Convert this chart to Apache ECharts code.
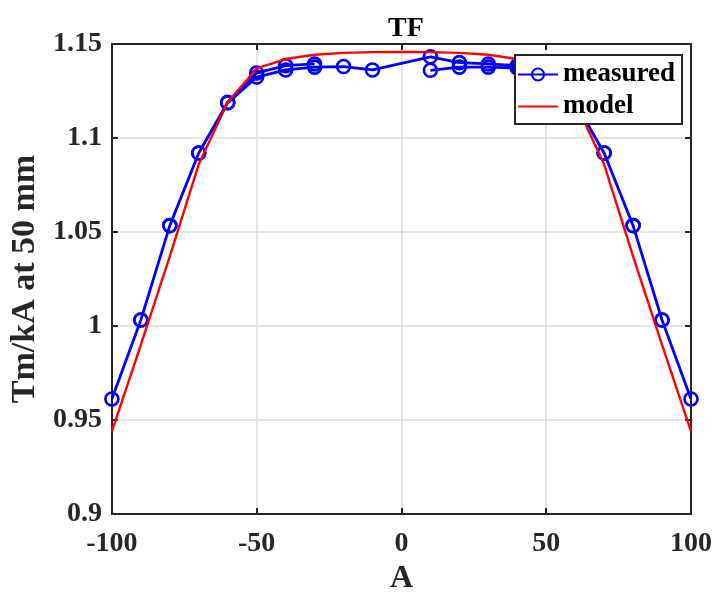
<!DOCTYPE html>
<html>
<head>
<meta charset="utf-8">
<script src="https://cdn.jsdelivr.net/npm/echarts@6/dist/echarts.min.js"></script>
<style>html,body{margin:0;padding:0;background:#fff}#c{width:717px;height:600px}</style>
</head>
<body>
<div id="c"></div>
<script>
// measured path (hysteresis loop order)
var measuredA  = [10, 20, 30, 40, 50, 60, 70, 80, 90, 100, 90, 80, 70, 60, 50, 40, 30, 20, 10, -10, -20, -30, -40, -50, -60, -70, -80, -90, -100, -90, -80, -70, -60, -50, -40, -30];
var measuredTF = [1.1360, 1.1377, 1.1377, 1.1372, 1.1325, 1.1187, 1.0920, 1.0534, 1.0032, 0.9612, 1.0032, 1.0534, 1.0920, 1.1190, 1.1345, 1.1385, 1.1394, 1.1401, 1.1432, 1.1362, 1.1380, 1.1377, 1.1362, 1.1324, 1.1187, 1.0920, 1.0534, 1.0032, 0.9612, 1.0032, 1.0534, 1.0920, 1.1190, 1.1346, 1.1385, 1.1394];
var modelA  = [-100, -90, -80, -70, -60, -50, -40, -30, -20, -10, 0, 10, 20, 30, 40, 50, 60, 70, 80, 90, 100];
var modelTF = [0.944, 0.990, 1.037, 1.086, 1.119, 1.137, 1.142, 1.1443, 1.1453, 1.1457, 1.1458, 1.1457, 1.1453, 1.1443, 1.142, 1.137, 1.119, 1.086, 1.037, 0.990, 0.944];
var titleText = 'TF';
var xName = 'A';
var yName = 'Tm/kA at 50 mm';

var font = 'Liberation Serif';
function pairs(a, b) { return a.map(function (v, i) { return [v, b[i]]; }); }
function fmt(v) { return String(Math.round(v * 100) / 100); }

var chart = echarts.init(document.getElementById('c'), null, {renderer: 'canvas'});
var axisColor = '#262626';
var baseX = {
  type: 'value', min: -100, max: 100, interval: 50,
  axisLine: {show: true, onZero: false, lineStyle: {color: axisColor, width: 2}},
  axisTick: {show: true, inside: true, length: 6, lineStyle: {color: axisColor, width: 2}}
};
var baseY = {
  type: 'value', min: 0.9, max: 1.15, interval: 0.05,
  axisLine: {show: true, onZero: false, lineStyle: {color: axisColor, width: 2}},
  axisTick: {show: true, inside: true, length: 6, lineStyle: {color: axisColor, width: 2}}
};
chart.setOption({
  animation: false,
  backgroundColor: '#fff',
  title: {
    text: titleText, left: 401, top: 10, textAlign: 'center',
    textStyle: {fontFamily: font, fontWeight: 'bold', fontSize: 28, color: '#000'}
  },
  grid: {left: 111, right: 26, top: 44, bottom: 83, containLabel: false},
  legend: {
    orient: 'vertical', left: 515, top: 55,
    padding: [6, 7, 4, 2], itemGap: 5, itemWidth: 40, itemHeight: 15,
    backgroundColor: '#fff', borderColor: axisColor, borderWidth: 2, borderRadius: 0,
    textStyle: {fontFamily: font, fontWeight: 'bold', fontSize: 27, color: '#000'},
    data: ['measured', 'model']
  },
  xAxis: [
    Object.assign({}, baseX, {
      position: 'bottom',
      name: xName, nameLocation: 'middle', nameGap: 49,
      nameTextStyle: {fontFamily: font, fontWeight: 'bold', fontSize: 32, color: axisColor},
      axisLabel: {fontFamily: font, fontWeight: 'bold', fontSize: 28, color: axisColor, margin: 16, formatter: fmt},
      splitLine: {show: true, lineStyle: {color: '#dedede', width: 1.5}}
    }),
    Object.assign({}, baseX, {position: 'top', axisLabel: {show: false}, splitLine: {show: false}})
  ],
  yAxis: [
    Object.assign({}, baseY, {
      position: 'left',
      name: yName, nameLocation: 'middle', nameGap: 68,
      nameTextStyle: {fontFamily: font, fontWeight: 'bold', fontSize: 34, color: axisColor},
      axisLabel: {fontFamily: font, fontWeight: 'bold', fontSize: 28, color: axisColor, margin: 10, formatter: fmt},
      splitLine: {show: true, lineStyle: {color: '#dedede', width: 1.5}}
    }),
    Object.assign({}, baseY, {position: 'right', axisLabel: {show: false}, splitLine: {show: false}})
  ],
  series: [
    {
      name: 'measured', type: 'line', xAxisIndex: 0, yAxisIndex: 0,
      data: pairs(measuredA, measuredTF),
      symbol: 'circle', symbolSize: 13, showAllSymbol: true,
      lineStyle: {color: '#0000ff', width: 2.8},
      itemStyle: {color: 'rgba(0,0,0,0)', borderColor: '#0000ff', borderWidth: 2.6},
      z: 2
    },
    {
      name: 'model', type: 'line', xAxisIndex: 0, yAxisIndex: 0,
      data: pairs(modelA, modelTF),
      symbol: 'none',
      lineStyle: {color: '#ff0000', width: 2.4},
      itemStyle: {color: 'rgba(0,0,0,0)', borderColor: 'rgba(0,0,0,0)', borderWidth: 0},
      z: 3
    }
  ]
});
</script>
</body>
</html>
